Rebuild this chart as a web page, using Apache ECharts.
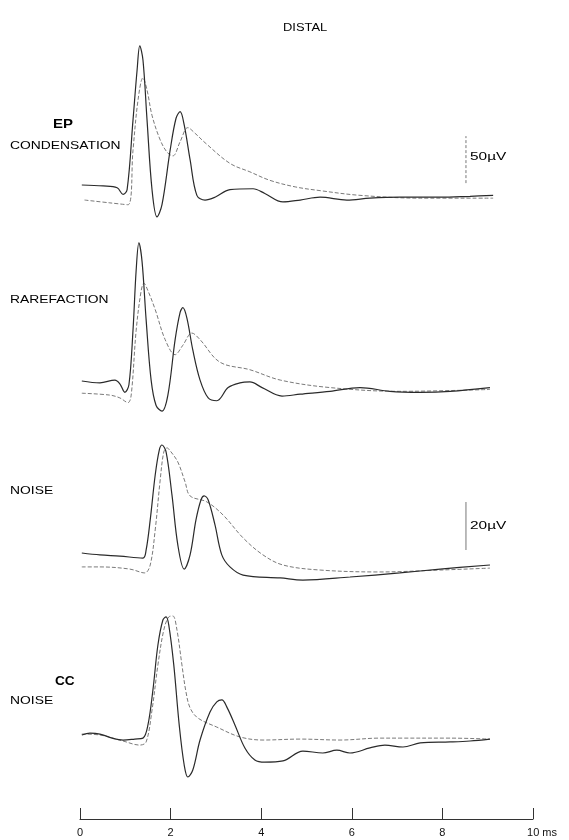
<!DOCTYPE html>
<html>
<head>
<meta charset="utf-8">
<script src="https://cdn.jsdelivr.net/npm/echarts@6/dist/echarts.min.js"></script>
<style>
html,body{margin:0;padding:0;background:#fff;}
#c{width:569px;height:840px;}
</style>
</head>
<body>
<div id="c"></div>
<script>
// time in ms, amplitude in µV (relative to each trace's pre-stimulus level)
var condSolid = [[0.04,0],[0.51,-1],[0.82,-3],[0.95,-10],[1.04,-5],[1.17,69],[1.26,122],[1.32,148],[1.39,133],[1.48,69],[1.59,-5],[1.70,-34],[1.81,-21],[1.99,37],[2.12,71],[2.21,78],[2.30,64],[2.43,27],[2.58,-11],[2.76,-16],[2.98,-13],[3.31,-5],[3.82,-4],[4.08,-9],[4.48,-18],[4.86,-16],[5.30,-13],[5.89,-16],[6.40,-14],[7.06,-13],[7.95,-13],[8.61,-12],[9.12,-11]];
var condDashed = [[0.10,-16],[0.66,-19],[1.06,-21],[1.17,37],[1.28,90],[1.39,114],[1.48,101],[1.59,74],[1.77,48],[1.92,35],[2.05,31],[2.21,46],[2.38,61],[2.54,55],[2.76,45],[3.31,23],[3.75,14],[4.19,5],[4.75,-2],[5.30,-6],[6.18,-11],[7.51,-14],[9.12,-14]];
var rareSolid = [[0.04,0],[0.44,-2],[0.77,1],[0.88,-3],[0.99,-12],[1.08,-4],[1.17,54],[1.24,118],[1.30,147],[1.37,127],[1.46,65],[1.57,1],[1.68,-26],[1.81,-32],[1.94,-15],[2.10,44],[2.21,73],[2.27,78],[2.36,67],[2.49,33],[2.65,1],[2.83,-18],[3.02,-21],[3.27,-7],[3.53,-2],[3.75,-1],[4.02,-7],[4.46,-16],[4.86,-14],[5.52,-11],[6.18,-7],[6.84,-11],[7.51,-12],[8.17,-11],[9.05,-7]];
var rareDashed = [[0.04,-13],[0.66,-15],[0.88,-18],[1.06,-23],[1.13,-15],[1.24,54],[1.35,96],[1.41,104],[1.50,96],[1.66,76],[1.88,44],[2.10,28],[2.27,38],[2.47,51],[2.65,44],[3.09,20],[3.75,12],[4.42,1],[5.52,-7],[7.06,-11],[9.05,-9]];
var noiseSolid = [[0.04,0],[0.44,-0.8],[0.88,-1.3],[1.39,-2.1],[1.46,1.3],[1.55,13.8],[1.66,32.5],[1.75,42.9],[1.81,45],[1.90,42.1],[2.03,24.2],[2.16,3.3],[2.30,-6.7],[2.43,-0.8],[2.56,13.8],[2.67,22.1],[2.74,23.8],[2.83,22.1],[2.98,11.7],[3.13,-0.8],[3.31,-5.8],[3.60,-9.2],[4.42,-10.4],[4.92,-11.3],[5.96,-10],[7.06,-8.3],[7.95,-6.7],[9.05,-5]];
var noiseDashed = [[0.04,-5.8],[0.44,-5.8],[1.10,-6.7],[1.43,-8.3],[1.55,-5],[1.66,9.6],[1.77,30.4],[1.85,42.1],[1.92,43.8],[2.01,42.1],[2.16,37.9],[2.32,29.6],[2.43,23.8],[2.80,21.3],[3.16,15.8],[3.60,6.3],[4.04,-0.8],[4.48,-5],[5.30,-7.1],[6.62,-7.9],[7.95,-7.1],[9.05,-6.3]];
var ccSolid = [[0.04,0],[0.22,0.8],[0.44,0.4],[0.71,-1.3],[0.95,-2.1],[1.21,-1.7],[1.39,-1.3],[1.50,4.2],[1.61,18.8],[1.72,37.5],[1.83,47.9],[1.90,49.2],[1.96,45.8],[2.07,29.2],[2.19,4.2],[2.30,-12.5],[2.38,-17.5],[2.49,-14.6],[2.65,-2.1],[2.87,9.6],[3.02,13.8],[3.13,14.6],[3.25,11.3],[3.42,4.2],[3.64,-5.4],[3.86,-10.4],[4.08,-11.3],[4.48,-10.8],[4.92,-6.7],[5.36,-7.5],[5.67,-6.3],[5.96,-7.5],[6.40,-5.4],[6.73,-4.2],[7.13,-5],[7.51,-3.3],[8.17,-2.9],[8.61,-2.5],[9.05,-1.7]];
var ccDashed = [[0.04,0.4],[0.44,0],[0.95,-2.5],[1.32,-4.2],[1.46,-2.9],[1.59,10.4],[1.72,29.2],[1.85,43.8],[1.96,49.2],[2.05,49.6],[2.14,43.8],[2.25,29.2],[2.34,17.9],[2.43,11.3],[2.60,7.1],[3.02,3.3],[3.53,-0.8],[4.04,-2.1],[4.86,-1.7],[5.74,-2.1],[6.62,-1.3],[7.06,-1.3],[8.17,-1.3],[9.05,-1.7]];
// calibration bars: [time, from µV, to µV]
var calEP = [8.52, 2, 52];
var calNoise = [8.52, 1.25, 21.25];
var xTicks = [0, 2, 4, 6, 8, 10];

var FONT = "'Liberation Sans', Arial, sans-serif";
var chart = echarts.init(document.getElementById('c'), null, {renderer:'canvas'});

var grids = [
  {left:80, right:36, top:44, height:188},
  {left:80, right:36, top:240, height:188},
  {left:80, right:36, top:433, height:156},
  {left:80, right:36, top:603, height:180}
];
var yr = [[-50,150],[-50,150],[-15,50],[-20,55]];

var xAxes = grids.map(function(g,i){
  var show = (i === 3);
  return {
    gridIndex:i, type:'value', min:0, max:10, interval:2, show:show,
    offset: show ? 36 : 0,
    splitLine:{show:false},
    axisLine:{show:show, onZero:false, lineStyle:{color:'#333', width:1}},
    axisTick:{show:show, inside:true, length:11, lineStyle:{color:'#333', width:1}},
    axisLabel:{show:show, margin:8, color:'#111', fontFamily:FONT, fontSize:11,
      showMinLabel:true, showMaxLabel:true,
      formatter:function(v){ return v === xTicks[xTicks.length-1] ? '{a|' + v + ' ms}' : String(v); },
      rich:{a:{fontFamily:FONT, fontSize:11, color:'#111', padding:[0,0,0,18]}}
    }
  };
});
var yAxes = grids.map(function(g,i){
  return {gridIndex:i, type:'value', min:yr[i][0], max:yr[i][1], show:false, splitLine:{show:false}};
});

function solid(i, d){
  return {type:'line', xAxisIndex:i, yAxisIndex:i, data:d, showSymbol:false, symbol:'none',
    smooth:0.35, lineStyle:{color:'#2a2a2a', width:1.2}, silent:true, z:3};
}
function dashed(i, d){
  return {type:'line', xAxisIndex:i, yAxisIndex:i, data:d, showSymbol:false, symbol:'none',
    smooth:0.35, lineStyle:{color:'#7a7a7a', width:1, type:[4,2]}, silent:true, z:2};
}
function cal(i, c, dash){
  return {type:'line', xAxisIndex:i, yAxisIndex:i, data:[[c[0],c[1]],[c[0],c[2]]], showSymbol:false, symbol:'none',
    lineStyle:{color:'#777', width:1, type: dash ? [3,2] : 'solid'}, silent:true};
}

function txt(s, x, y, size, sx, bold){
  return {type:'text', x:x, y:y, scaleX:sx, scaleY:1, silent:true,
    style:{text:s, fontFamily:FONT, fontSize:size, fontWeight: bold ? 'bold' : 'normal', fill:'#000',
      textAlign:'left', textVerticalAlign:'middle', align:'left', verticalAlign:'middle'}};
}

chart.setOption({
  animation:false,
  backgroundColor:'#fff',
  grid:grids,
  xAxis:xAxes,
  yAxis:yAxes,
  series:[
    dashed(0, condDashed), solid(0, condSolid),
    dashed(1, rareDashed), solid(1, rareSolid),
    dashed(2, noiseDashed), solid(2, noiseSolid),
    dashed(3, ccDashed), solid(3, ccSolid),
    cal(0, calEP, true), cal(2, calNoise, false)
  ],
  graphic:[
    txt('DISTAL', 283, 28, 10, 1.29),
    txt('EP', 53, 124, 13, 1.15, true),
    txt('CONDENSATION', 10, 146, 11, 1.26),
    txt('RAREFACTION', 10, 300, 11, 1.26),
    txt('NOISE', 10, 491, 11, 1.26),
    txt('CC', 55, 681, 13, 1.05, true),
    txt('NOISE', 10, 701, 11, 1.26),
    txt('50µV', 470, 157, 11, 1.4),
    txt('20µV', 470, 526, 11, 1.4)
  ]
});
</script>
</body>
</html>
